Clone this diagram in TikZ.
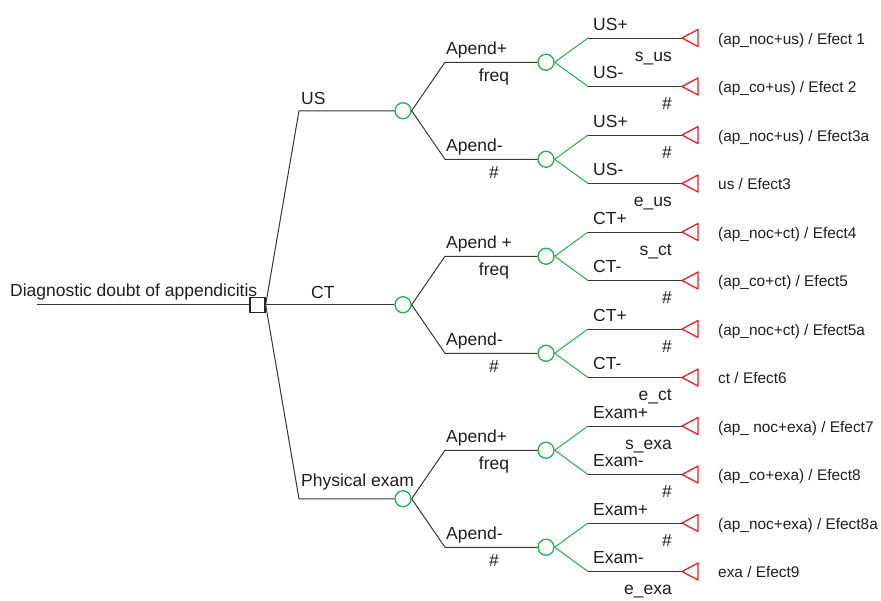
\documentclass[tikz,border=0pt]{standalone}
\usepackage{fontspec}
\setmainfont{Liberation Sans}
\definecolor{chancegreen}{RGB}{34,177,76}
\definecolor{endred}{RGB}{232,32,40}
\definecolor{linegray}{RGB}{55,55,55}

\begin{document}
\begin{tikzpicture}[x=1pt,y=-1pt,
	branch/.style={draw=linegray,line width=1pt},
	gbranch/.style={draw=chancegreen,line width=1pt},
	decision/.style={draw=black!85,line width=1.3pt,rectangle,minimum size=15pt,inner sep=0pt},
	chance/.style={draw=chancegreen,line width=1.3pt,circle,minimum size=16pt,inner sep=0pt},
	terminal/.style={draw=endred,line width=1.3pt,line join=round},
	lbl/.style={inner sep=0pt,font=\fontsize{17.5}{20}\selectfont,text=black!88},
	paylbl/.style={inner sep=0pt,font=\fontsize{15.4}{18}\selectfont,text=black!88}]
	\useasboundingbox (0,0) rectangle (881,600);
	\foreach \t/\y/\ap in {us/110.75/Apend+, ct/304.75/{Apend +}, pe/498.75/Apend+} {
		\node[chance] (\t) at (403,\y) {};
		\node[chance] (\t-p) at (546,\y-48.5) {};
		\node[chance] (\t-m) at (546,\y+48.5) {};
		\coordinate (\t-pc) at (445,\y-48.5);
		\coordinate (\t-mc) at (445,\y+48.5);
		\draw[branch] (\t.east) -- (\t-pc) -- (\t-p);
		\draw[branch] (\t.east) -- (\t-mc) -- (\t-m);
		\node[lbl,anchor=base west] (\t-pa) at (446,\y-56.5) {\ap};
		\node[lbl,anchor=base] (\t-pb) at (494,\y-29.5) {freq};
		\node[lbl,anchor=base west] (\t-ma) at (446,\y+40.5) {Apend-};
		\node[lbl,anchor=base] (\t-mb) at (494,\y+67.5) {\#};
	}
	\foreach \src/\br/\bl/\pay [count=\i from 0] in {
		us-p/US+/s\_us/{(ap\_noc+us) / Efect 1},
		us-p/US-/\#/{(ap\_co+us) / Efect 2},
		us-m/US+/\#/{(ap\_noc+us) / Efect3a},
		us-m/US-/e\_us/{us / Efect3},
		ct-p/CT+/s\_ct/{(ap\_noc+ct) / Efect4},
		ct-p/CT-/\#/{(ap\_co+ct) / Efect5},
		ct-m/CT+/\#/{(ap\_noc+ct) / Efect5a},
		ct-m/CT-/e\_ct/{ct / Efect6},
		pe-p/Exam+/s\_exa/{(ap\_ noc+exa) / Efect7},
		pe-p/Exam-/\#/{(ap\_co+exa) / Efect8},
		pe-m/Exam+/\#/{(ap\_noc+exa) / Efect8a},
		pe-m/Exam-/e\_exa/{exa / Efect9}} {
		\pgfmathsetmacro\ly{38+48.5*\i}
		\coordinate (leaf\i-c) at (588,\ly);
		\coordinate (leaf\i) at (682,\ly);
		\draw[gbranch] (\src.east) -- (leaf\i-c);
		\draw[branch] (leaf\i-c) -- (leaf\i);
		\draw[terminal] (leaf\i) -- ++(16,-8.5) -- ++(0,17) -- cycle;
		\node[lbl,anchor=base west] (leaf\i-a) at (593,\ly-8) {\br};
		\node[lbl,anchor=base east] (leaf\i-b) at (672,\ly+23) {\bl};
		\node[paylbl,anchor=base west] (leaf\i-v) at (718,\ly+6) {\pay};
	}
	\node[lbl,anchor=base west] (title) at (10,296.5) {Diagnostic doubt of appendicitis};
	\node[decision] (root) at (257.5,304.75) {};
	\coordinate (start) at (37,304.75);
	\coordinate (us-c) at (299,110.75);
	\coordinate (pe-c) at (299,498.75);
	\draw[branch] (start) -- (root);
	\draw[branch] (root.east) -- (us-c) -- (us);
	\draw[branch] (root.east) -- (ct);
	\draw[branch] (root.east) -- (pe-c) -- (pe);
	\node[lbl,anchor=base west] (us-l) at (301,104.75) {US};
	\node[lbl,anchor=base west] (ct-l) at (311,298.25) {CT};
	\node[lbl,anchor=base west] (pe-l) at (301,486.5) {Physical exam};
\end{tikzpicture}
\end{document}
